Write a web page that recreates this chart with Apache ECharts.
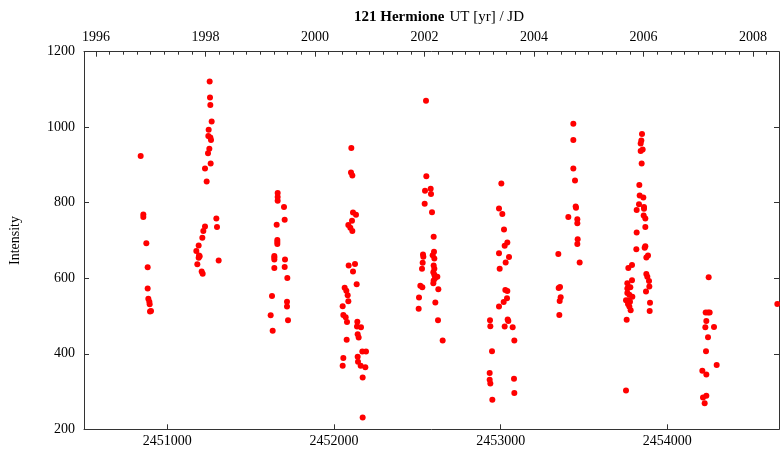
<!DOCTYPE html>
<html>
<head>
<meta charset="utf-8">
<script src="https://cdn.jsdelivr.net/npm/echarts@6/dist/echarts.min.js"></script>
<style>
  html, body { margin: 0; padding: 0; background: #fff; }
  #chart { width: 780px; height: 453px; }
</style>
</head>
<body>
<div id="chart"></div>
<script>
// observation dates (JD) and intensities, grouped by apparition
const jdValues = [
  2450840, 2450856, 2450856, 2450874, 2450882, 2450882, 2450886, 2450892, 2450894, 2450896, 2450902,
  2451254, 2451256, 2451258, 2451266, 2451248, 2451246, 2451258, 2451262, 2451252, 2451244, 2451260,
  2451226, 2451236, 2451294, 2451298, 2451226, 2451216, 2451210, 2451188, 2451174, 2451190, 2451188,
  2451194, 2451180, 2451206, 2451212, 2451308,
  2451662, 2451662, 2451662, 2451700, 2451656, 2451704, 2451660, 2451660, 2451660, 2451642, 2451642,
  2451642, 2451642, 2451706, 2451704, 2451720, 2451628, 2451718, 2451718, 2451620, 2451724, 2451632,
  2452104, 2452102, 2452110, 2452114, 2452132, 2452108, 2452086, 2452098, 2452110, 2452088, 2452126,
  2452114, 2452136, 2452064, 2452074, 2452082, 2452086, 2452052, 2452056, 2452070, 2452078, 2452140,
  2452138, 2452162, 2452142, 2452148, 2452076, 2452170, 2452192, 2452056, 2452142, 2452144, 2452052,
  2452160, 2452188, 2452172, 2452172,
  2452552, 2452554, 2452580, 2452546, 2452582, 2452544, 2452588, 2452598, 2452534, 2452536, 2452532,
  2452600, 2452592, 2452602, 2452528, 2452598, 2452602, 2452596, 2452602, 2452620, 2452606, 2452598,
  2452596, 2452518, 2452530, 2452626, 2452510, 2452608, 2452508, 2452624, 2452652,
  2453004, 2452990, 2453010, 2453020, 2453024, 2453040, 2452990, 2453050, 2453030, 2452994, 2453028,
  2453040, 2453038, 2453018, 2452990, 2453042, 2453046, 2452936, 2452938, 2453024, 2453072, 2453082,
  2452948, 2452934, 2452934, 2452938, 2453080, 2453082, 2452950,
  2453436, 2453436, 2453436, 2453446, 2453450, 2453452, 2453406, 2453460, 2453460, 2453462, 2453460,
  2453346, 2453474, 2453348, 2453356, 2453360, 2453354, 2453352,
  2453848, 2453844, 2453840, 2453852, 2453840, 2453846, 2453832, 2453834, 2453856, 2453830, 2453860,
  2453860, 2453816, 2453858, 2453868, 2453868, 2453816, 2453814, 2453868, 2453864, 2453874, 2453884,
  2453788, 2453766, 2453874, 2453880, 2453788, 2453890, 2453760, 2453768, 2453760, 2453778, 2453892,
  2453760, 2453772, 2453790, 2453872, 2453752, 2453768, 2453776, 2453764, 2453772, 2453780, 2453896,
  2453894, 2453756, 2453752,
  2454248, 2454230, 2454244, 2454254, 2454234, 2454228, 2454280, 2454244, 2454232, 2454296, 2454210,
  2454234, 2454234, 2454214, 2454224,
  2454660
];

const intensityValues = [
  924, 769, 762, 693, 629, 573, 546, 538, 531, 512, 513,
  1121, 1079, 1059, 1015, 993, 977, 973, 966, 943, 931, 904,
  891, 856, 758, 736, 737, 725, 707, 687, 672, 660, 654,
  658, 637, 618, 612, 647,
  826, 815, 805, 789, 742, 755, 701, 696, 691, 659, 655,
  650, 627, 650, 630, 601, 553, 538, 525, 502, 489, 461,
  945, 880, 872, 774, 768, 752, 741, 734, 725, 634, 638,
  618, 584, 575, 567, 555, 539, 526, 503, 497, 484, 485,
  472, 470, 452, 443, 437, 406, 406, 389, 392, 379, 368,
  368, 364, 337, 231,
  1070, 870, 837, 832, 823, 797, 775, 710, 663, 657, 641,
  670, 661, 652, 625, 634, 625, 616, 609, 604, 600, 594,
  587, 580, 576, 571, 549, 536, 519, 489, 435,
  851, 785, 770, 729, 686, 695, 666, 656, 642, 625, 569,
  566, 547, 537, 525, 491, 487, 489, 473, 472, 470, 435,
  407, 349, 331, 321, 334, 296, 278,
  1009, 966, 891, 859, 790, 787, 762, 756, 746, 703, 691,
  664, 642, 574, 577, 550, 540, 503,
  982, 965, 957, 941, 937, 904, 847, 819, 814, 796, 789,
  784, 781, 766, 758, 736, 721, 677, 685, 681, 655, 660,
  635, 627, 611, 604, 595, 593, 587, 576, 573, 576, 578,
  561, 556, 551, 565, 542, 542, 538, 532, 525, 515, 535,
  513, 490, 303,
  603, 509, 509, 509, 487, 470, 471, 444, 407, 370, 355,
  345, 289, 284, 269,
  532
];

const jdTicks = [2451000, 2452000, 2453000, 2454000];
const yearTicks = [1996, 1998, 2000, 2002, 2004, 2006, 2008];
const yearMinorTicks = [];
for (let q = 1996; q <= 2008.25; q += 0.25) yearMinorTicks.push(q);

const points = jdValues.map((jd, i) => [jd, intensityValues[i]]);

const font = "'Liberation Serif', 'DejaVu Serif', serif";
const axisColor = '#333';

const chart = echarts.init(document.getElementById('chart'));
chart.setOption({
  animation: false,
  backgroundColor: '#fff',
  title: {
    text: '{b|121 Hermione} {n|UT [yr] / JD}',
    left: 434,
    top: 3,
    textAlign: 'center',
    textStyle: {
      rich: {
        b: { fontFamily: font, fontWeight: 'bold', fontSize: 15, color: '#000' },
        n: { fontFamily: font, fontWeight: 'normal', fontSize: 15, color: '#000' }
      }
    }
  },
  grid: { left: 84, right: 1, top: 51.7, bottom: 23.7, containLabel: false },
  xAxis: [
    {
      type: 'value',
      min: 2450500,
      max: 2454670,
      position: 'bottom',
      splitLine: { show: false },
      axisLine: { lineStyle: { color: axisColor } },
      axisTick: { inside: true, length: 5, customValues: jdTicks, lineStyle: { color: axisColor } },
      axisLabel: {
        customValues: jdTicks,
        formatter: (v) => String(v),
        fontFamily: font, fontSize: 14, color: '#000', margin: 5
      }
    },
    {
      type: 'value',
      min: 1995.781,
      max: 2008.475,
      position: 'top',
      splitLine: { show: false },
      axisLine: { lineStyle: { color: axisColor } },
      axisTick: { inside: true, length: 5, customValues: yearTicks, lineStyle: { color: axisColor } },
      axisLabel: {
        customValues: yearTicks,
        formatter: (v) => String(v),
        fontFamily: font, fontSize: 14, color: '#000', margin: 7
      }
    },
    {
      type: 'value',
      min: 1995.781,
      max: 2008.475,
      position: 'top',
      splitLine: { show: false },
      axisLine: { show: false },
      axisTick: { inside: true, length: 3, customValues: yearMinorTicks, lineStyle: { color: axisColor } },
      axisLabel: { show: false }
    }
  ],
  yAxis: [
    {
      type: 'value',
      min: 200,
      max: 1200,
      interval: 200,
      position: 'left',
      name: 'Intensity',
      nameLocation: 'middle',
      nameGap: 62,
      nameRotate: 90,
      nameTextStyle: { fontFamily: font, fontSize: 14, color: '#000' },
      splitLine: { show: false },
      axisLine: { show: true, lineStyle: { color: axisColor } },
      axisTick: { inside: true, length: 5, lineStyle: { color: axisColor } },
      axisLabel: { formatter: (v) => String(v), fontFamily: font, fontSize: 14, color: '#000', margin: 9 }
    },
    {
      type: 'value',
      min: 200,
      max: 1200,
      interval: 200,
      position: 'right',
      splitLine: { show: false },
      axisLine: { show: true, lineStyle: { color: axisColor } },
      axisTick: { inside: true, length: 5, lineStyle: { color: axisColor } },
      axisLabel: { show: false }
    }
  ],
  series: [
    {
      type: 'scatter',
      xAxisIndex: 0,
      yAxisIndex: 0,
      symbol: 'circle',
      symbolSize: 6,
      itemStyle: { color: '#ff0000', opacity: 1 },
      data: points
    }
  ]
});
</script>
</body>
</html>
